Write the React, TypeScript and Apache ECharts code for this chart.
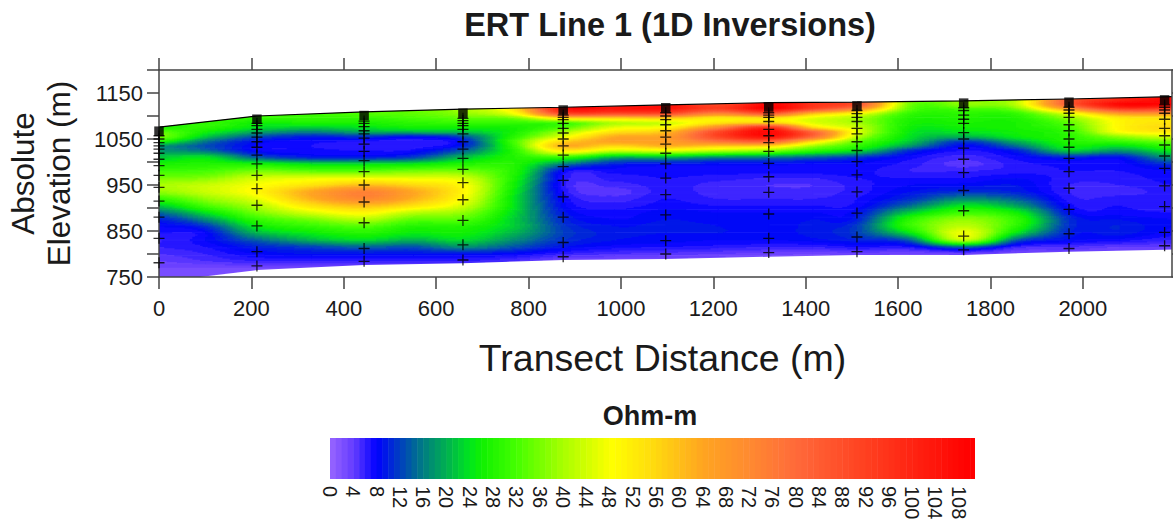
import React, { useEffect, useRef } from "react";
import * as echarts from "echarts";

const FONT = "Liberation Sans";
const AXIS_COLOR = "#444444";
const TEXT_COLOR = "#1a1a1a";

// Grid of resistivity values (Ohm-m)
const gridX = [0, 100, 212, 330, 444, 550, 658, 770, 875, 985, 1097, 1210, 1320, 1415, 1511, 1625, 1742, 1855, 1970, 2080, 2193];
const gridE = [1145, 1135, 1125, 1115, 1105, 1095, 1085, 1075, 1065, 1055, 1045, 1035, 1025, 1010, 995, 980, 965, 950, 935, 920, 905, 890, 875, 860, 845, 830, 815, 800, 785, 770, 750];

const c0 = [26, 26, 26, 26, 26, 26, 26, 28, 34, 36, 28, 18, 18, 22, 27, 31, 36, 40, 38, 30, 22, 15, 10, 8, 7, 6, 6, 5, 4, 3, 2];
const c100 = [28, 28, 28, 28, 28, 30, 30, 29, 26, 22, 16, 13, 15, 24, 28, 32, 37, 43, 43, 38, 32, 24, 17, 11, 8, 8, 7, 6, 5, 3, 2];
const c212 = [30, 30, 30, 30, 30, 30, 26, 24, 19, 13, 9, 8, 8, 14, 27, 36, 44, 48, 50, 46, 41, 36, 30, 25, 20, 14, 10, 8, 6, 3, 1];
const c330 = [32, 32, 32, 32, 31, 30, 27, 22, 16, 10, 7.5, 7, 7.5, 10, 24, 34, 46, 54, 64, 62, 54, 45, 36, 30, 25, 20, 12, 9, 6, 3, 1];
const c444 = [33, 33, 33, 33, 33, 30, 27, 24, 19, 11, 7, 6.5, 7, 10, 24, 34, 47, 60, 74, 72, 60, 50, 41, 33, 28, 23, 14, 9, 6, 3, 1];
const c550 = [35, 35, 35, 35, 34, 32, 29, 26, 20, 9, 6.5, 6.5, 7.5, 12, 25, 36, 46, 56, 64, 62, 54, 42, 34, 28, 25, 20, 13, 9, 6, 3, 1];
const c658 = [40, 40, 40, 40, 38, 34, 30, 26, 21, 13, 9.5, 10, 14, 21, 28, 36, 44, 49, 50, 48, 44, 38, 33, 28, 26, 23, 17, 9, 6, 3, 1];
const c770 = [56, 56, 56, 54, 48, 36, 30, 27, 27, 29, 32, 31, 29, 28, 28, 28, 27, 26, 25, 24, 24, 23, 22, 22, 20, 17, 13, 8, 5, 3, 1];
const c875 = [104, 104, 104, 104, 88, 54, 32, 33, 40, 46, 56, 62, 52, 30, 16, 8, 7, 6.5, 7, 8, 8.5, 9.5, 10.5, 11.5, 12, 11, 9, 6, 3, 2, 1];
const c985 = [100, 100, 100, 104, 88, 56, 41, 46, 54, 63, 65, 56, 44, 20, 10, 7.5, 6.5, 5.5, 4.5, 5.5, 6.5, 7.5, 8, 9, 9.5, 9, 7.5, 5, 2.5, 1.5, 1];
const c1097 = [104, 104, 104, 104, 88, 58, 44, 50, 60, 66, 66, 62, 46, 20, 9, 7.5, 7, 6.5, 6.5, 7, 7.5, 8.5, 9, 9.5, 9, 8.5, 7, 4.5, 2.5, 1.5, 1];
const c1210 = [84, 84, 90, 92, 72, 52, 54, 72, 90, 90, 78, 58, 42, 17, 8.5, 7.5, 6.5, 5.5, 5.5, 6, 7, 8, 8.5, 9, 9, 8, 6.5, 4, 2, 1.5, 1];
const c1320 = [108, 108, 108, 108, 84, 54, 58, 96, 108, 104, 84, 56, 38, 16, 8.5, 7.5, 6, 5, 5.5, 6, 7, 8, 8.5, 8.5, 8.5, 8, 6, 3.5, 2, 1.5, 1];
const c1415 = [94, 94, 96, 90, 60, 46, 46, 56, 82, 80, 56, 40, 30, 14, 8, 7.5, 6, 5, 5.5, 6, 7, 8, 9, 9.5, 9.5, 8.5, 6, 3, 2, 1.5, 1];
const c1511 = [82, 82, 86, 70, 48, 40, 40, 43, 46, 42, 35, 30, 24, 11, 8, 7.5, 7, 6.5, 6.5, 7, 7.5, 9, 10, 12, 12, 10, 7, 3.5, 2, 1.5, 1];
const c1625 = [38, 38, 36, 34, 30, 28, 27, 26, 25, 24, 22, 18, 11, 7.5, 6.5, 6, 7, 8, 9, 11, 15, 22, 29, 30, 24, 14, 7, 3, 2, 1.5, 1];
const c1742 = [38, 38, 38, 32, 29, 28, 27, 26, 24, 20, 12, 8.5, 7, 5.5, 4.5, 6, 7, 8.5, 11, 17, 24, 31, 38, 42, 47, 42, 14, 3.5, 2, 1.5, 1];
const c1855 = [42, 42, 42, 36, 30, 28, 27, 27, 26, 25, 20, 15, 10, 7.5, 6.5, 6.5, 8, 9, 10, 14, 19, 26, 30, 29, 24, 14, 6, 3, 2, 1.5, 1];
const c1970 = [84, 84, 84, 66, 46, 38, 34, 32, 30, 29, 28, 26, 22, 10, 7.5, 7, 6.5, 6, 6, 6.5, 7.5, 9, 11, 11, 10, 8.5, 5, 3, 2, 1.5, 1];
const c2080 = [95, 100, 108, 92, 66, 52, 50, 50, 48, 38, 31, 24, 18, 9, 7.5, 7, 6.5, 6, 5.5, 6.5, 7, 7.5, 9, 10, 9.5, 7.5, 4, 2.5, 2, 1.5, 1];
const c2193 = [108, 108, 108, 90, 68, 54, 54, 56, 52, 44, 36, 30, 25, 18, 11, 8, 7.5, 7, 6.5, 6.5, 6.5, 7, 8, 8, 7.5, 6, 4, 2.5, 2, 1.5, 1];
const gridColumns = [c0, c100, c212, c330, c444, c550, c658, c770, c875, c985, c1097, c1210, c1320, c1415, c1511, c1625, c1742, c1855, c1970, c2080, c2193];

// Ground surface and lower limit of the section
const surfaceX = [0, 212, 444, 658, 875, 1097, 1320, 1511, 1742, 1970, 2193];
const surfaceE = [1076, 1100, 1109, 1115, 1119, 1124, 1129, 1130, 1133, 1137, 1142];
const bottomX = [0, 89, 212, 444, 658, 875, 1097, 1320, 1511, 1742, 1970, 2177, 2193];
const bottomE = [750, 750, 765, 776, 780, 787, 789, 794, 798, 798, 805, 809, 810];

// Sounding stations
const stationX = [0, 212, 444, 658, 875, 1097, 1320, 1511, 1742, 1970, 2177];
const stationTop = [1067, 1093, 1101, 1106, 1113, 1118, 1119.5, 1122, 1128, 1130, 1135];
const layers0 = [1057, 1050, 1042, 1035, 1028, 1019, 1006, 992, 971, 945, 915, 880, 834, 781];
const layers1 = [1084, 1079, 1071, 1063, 1054, 1044, 1032, 1015, 996, 971, 942, 906, 861, 805, 774];
const layers2 = [1089, 1084, 1077, 1068, 1061, 1052, 1039, 1023, 1003, 979, 950, 913, 868, 812, 784];
const layers3 = [1095, 1090, 1084, 1079, 1071, 1061, 1044, 1028, 1008, 984, 955, 918, 873, 820, 787];
const layers4 = [1102, 1097, 1092, 1084, 1073, 1063, 1050, 1035, 1015, 990, 960, 924, 880, 825, 794];
const layers5 = [1107, 1100, 1092, 1081, 1068, 1054, 1039, 1019, 996, 965, 929, 885, 829, 800];
const layers6 = [1107, 1102, 1097, 1088, 1071, 1057, 1042, 1023, 997, 968, 934, 887, 834, 803];
const layers7 = [1112, 1105, 1097, 1088, 1073, 1061, 1044, 1025, 1001, 972, 935, 889, 837, 805];
const layers8 = [1118, 1112, 1102, 1093, 1084, 1064, 1050, 1030, 1006, 977, 938, 894, 839, 809];
const layers9 = [1119, 1113, 1106, 1097, 1081, 1068, 1050, 1032, 1008, 979, 943, 897, 844, 812];
const layers10 = [1124, 1119, 1113, 1106, 1093, 1073, 1057, 1037, 1013, 986, 948, 903, 847, 818];
const stationLayers = [layers0, layers1, layers2, layers3, layers4, layers5, layers6, layers7, layers8, layers9, layers10];

// Axes and legend ticks
const xTicks = [0, 200, 400, 600, 800, 1000, 1200, 1400, 1600, 1800, 2000];
const yTicks = [750, 800, 850, 900, 950, 1000, 1050, 1100, 1150, 1200];
const yLabels = [750, 850, 950, 1050, 1150];
const legendTicks = [0, 4, 8, 12, 16, 20, 24, 28, 32, 36, 40, 44, 48, 52, 56, 60, 64, 68, 72, 76, 80, 84, 88, 92, 96, 100, 104, 108];
const colorStops: [number, number[]][] = [
  [0, [153, 102, 255]],
  [4, [100, 60, 255]],
  [8, [0, 0, 255]],
  [16, [0, 125, 130]],
  [20, [0, 176, 80]],
  [24, [0, 230, 30]],
  [26, [16, 240, 0]],
  [32, [68, 255, 0]],
  [40, [168, 255, 0]],
  [48.5, [255, 255, 0]],
  [56, [255, 216, 15]],
  [64, [255, 165, 32]],
  [72, [255, 138, 48]],
  [80, [255, 106, 58]],
  [92, [255, 64, 32]],
  [110, [255, 0, 0]],
];
const legendLevels = Array.from({ length: 111 }, (_, i) => i);

function levelColor(v: number) {
  const level = Math.max(0, Math.min(110, Math.floor(v) + 0.5));
  let k = 0;
  while (k < colorStops.length - 2 && level > colorStops[k + 1][0]) k++;
  const [a, ca] = colorStops[k];
  const [b, cb] = colorStops[k + 1];
  const t = (level - a) / (b - a);
  const ch = [0, 1, 2].map((n) => Math.round(ca[n] + (cb[n] - ca[n]) * t));
  return `rgb(${ch[0]},${ch[1]},${ch[2]})`;
}

function spline(p0: number, p1: number, p2: number, p3: number, t: number) {
  return 0.5 * (2 * p1 + (p2 - p0) * t + (2 * p0 - 5 * p1 + 4 * p2 - p3) * t * t + (3 * p1 - p0 - 3 * p2 + p3) * t * t * t);
}

function fieldAt(i: number, j: number, u: number, v: number) {
  const nx = gridX.length - 1;
  const ny = gridE.length - 1;
  const rows = [-1, 0, 1, 2].map((dj) => {
    const r = Math.max(0, Math.min(ny, j + dj));
    const col = (di: number) => gridColumns[Math.max(0, Math.min(nx, i + di))][r];
    return spline(col(-1), col(0), col(1), col(2), u);
  });
  return spline(rows[0], rows[1], rows[2], rows[3], v);
}

const cellData: number[][] = [];
for (let i = 0; i < gridX.length - 1; i++) {
  for (let j = 0; j < gridE.length - 1; j++) {
    cellData.push([gridX[i], gridE[j], i, j]);
  }
}

function renderCell(_: any, api: any) {
  const i = api.value(2);
  const j = api.value(3);
  const tl = api.coord([gridX[i], gridE[j]]);
  const br = api.coord([gridX[i + 1], gridE[j + 1]]);
  const w = br[0] - tl[0];
  const h = br[1] - tl[1];
  const nu = Math.max(1, Math.round(w / 2.5));
  const nv = Math.max(1, Math.round(h / 1.25));
  const children: any[] = [];
  for (let b = 0; b < nv; b++) {
    const v = (b + 0.5) / nv;
    let runStart = 0;
    let runColor = "";
    for (let a = 0; a <= nu; a++) {
      const color = a < nu ? levelColor(fieldAt(i, j, (a + 0.5) / nu, v)) : "";
      if (color !== runColor) {
        if (runColor) {
          children.push({
            type: "rect",
            shape: {
              x: tl[0] + (runStart / nu) * w,
              y: tl[1] + (b / nv) * h,
              width: ((a - runStart) / nu) * w + 0.7,
              height: h / nv + 0.7,
            },
            style: { fill: runColor },
          });
        }
        runStart = a;
        runColor = color;
      }
    }
  }
  return { type: "group", children };
}

function renderBand(_: any, api: any) {
  const level = api.value(0);
  const a = api.coord([level, 1]);
  const b = api.coord([level + 1, 0]);
  return {
    type: "rect",
    shape: { x: a[0], y: a[1], width: b[0] - a[0] + 0.5, height: b[1] - a[1] },
    style: { fill: levelColor(level) },
  };
}

const axisLine = { show: true, onZero: false, lineStyle: { color: AXIS_COLOR, width: 1.5 } };
const axisTick = (values: number[]) => ({
  show: true,
  length: 12,
  inside: false,
  customValues: values,
  lineStyle: { color: AXIS_COLOR, width: 1.5 },
});
const plainNumber = (v: number) => String(v);
const labelStyle = { fontFamily: FONT, fontSize: 22, color: TEXT_COLOR, formatter: plainNumber };

export default function App() {
  const ref = useRef<HTMLDivElement>(null);
  useEffect(() => {
    const chart = echarts.init(ref.current!, null, { renderer: "svg" });
    chart.setOption({
      animation: false,
      backgroundColor: "#ffffff",
      title: [
        {
          text: "ERT Line 1 (1D Inversions)",
          left: 665,
          top: 3,
          textAlign: "center",
          textStyle: { fontFamily: FONT, fontSize: 32.5, fontWeight: "bold", color: TEXT_COLOR },
        },
        {
          text: "Ohm-m",
          left: 645,
          top: 397,
          textAlign: "center",
          textStyle: { fontFamily: FONT, fontSize: 27, fontWeight: "bold", color: TEXT_COLOR },
        },
      ],
      grid: [
        { left: 159, top: 70, width: 1013, height: 207, containLabel: false, outerBoundsMode: "none" },
        { left: 330, top: 438, width: 645, height: 41, containLabel: false, outerBoundsMode: "none" },
      ],
      xAxis: [
        {
          type: "value",
          gridIndex: 0,
          position: "bottom",
          min: 0,
          max: 2193,
          z: 10,
          name: "Transect Distance (m)",
          nameLocation: "middle",
          nameGap: 62,
          nameTextStyle: { fontFamily: FONT, fontSize: 37.5, color: TEXT_COLOR, padding: [0, 6, 0, 0] },
          axisLine,
          axisTick: axisTick(xTicks),
          axisLabel: { ...labelStyle, margin: 20, customValues: xTicks },
          splitLine: { show: false },
        },
        {
          type: "value",
          gridIndex: 0,
          position: "top",
          min: 0,
          max: 2193,
          z: 10,
          axisLine,
          axisTick: axisTick(xTicks),
          axisLabel: { show: false },
          splitLine: { show: false },
        },
        {
          type: "value",
          gridIndex: 1,
          position: "bottom",
          min: 0,
          max: 110.8,
          axisLine: { show: false },
          axisTick: { show: false },
          axisLabel: { fontFamily: FONT, fontSize: 20, color: TEXT_COLOR, rotate: -90, margin: 7, customValues: legendTicks, formatter: plainNumber },
          splitLine: { show: false },
        },
      ],
      yAxis: [
        {
          type: "value",
          gridIndex: 0,
          position: "left",
          min: 750,
          max: 1200,
          z: 10,
          name: "Absolute\nElevation (m)",
          nameLocation: "middle",
          nameGap: 82,
          nameRotate: 90,
          nameTextStyle: { fontFamily: FONT, fontSize: 31.5, lineHeight: 36, color: TEXT_COLOR },
          axisLine,
          axisTick: axisTick(yTicks),
          axisLabel: { ...labelStyle, margin: 16, customValues: yLabels },
          splitLine: { show: false },
        },
        {
          type: "value",
          gridIndex: 0,
          position: "right",
          min: 750,
          max: 1200,
          z: 10,
          axisLine,
          axisTick: axisTick(yTicks),
          axisLabel: { show: false },
          splitLine: { show: false },
        },
        {
          type: "value",
          gridIndex: 1,
          min: 0,
          max: 1,
          axisLine: { show: false },
          axisTick: { show: false },
          axisLabel: { show: false },
          splitLine: { show: false },
        },
      ],
      series: [
        {
          type: "custom",
          name: "Resistivity",
          xAxisIndex: 0,
          yAxisIndex: 0,
          z: 1,
          clip: true,
          silent: true,
          encode: { x: 0, y: 1 },
          renderItem: renderCell,
          data: cellData,
        },
        {
          type: "line",
          name: "Surface",
          xAxisIndex: 0,
          yAxisIndex: 0,
          z: 3,
          silent: true,
          showSymbol: false,
          lineStyle: { color: "#000000", width: 1.2 },
          areaStyle: { color: "#ffffff", opacity: 1, origin: "end" },
          data: surfaceX.map((x, i) => [x, surfaceE[i]]),
        },
        {
          type: "line",
          name: "Lower limit",
          xAxisIndex: 0,
          yAxisIndex: 0,
          z: 3,
          silent: true,
          showSymbol: false,
          lineStyle: { width: 0, opacity: 0 },
          areaStyle: { color: "#ffffff", opacity: 1, origin: "start" },
          data: bottomX.map((x, i) => [x, bottomE[i]]),
        },
        {
          type: "scatter",
          name: "Layers",
          xAxisIndex: 0,
          yAxisIndex: 0,
          z: 20,
          clip: false,
          silent: true,
          symbol: "path://M4.4 0h1.2v4.4h4.4v1.2h-4.4v4.4h-1.2v-4.4h-4.4v-1.2h4.4z",
          symbolSize: 11,
          itemStyle: { color: "#000000" },
          data: stationLayers.flatMap((layers, i) => layers.map((e) => [stationX[i], e])),
        },
        {
          type: "scatter",
          name: "Stations",
          xAxisIndex: 0,
          yAxisIndex: 0,
          z: 21,
          clip: false,
          silent: true,
          symbol: "rect",
          symbolSize: 9.5,
          itemStyle: { color: "#000000" },
          data: stationX.map((x, i) => [x, stationTop[i]]),
        },
        {
          type: "custom",
          name: "Colour scale",
          xAxisIndex: 2,
          yAxisIndex: 2,
          clip: true,
          silent: true,
          encode: { x: 0 },
          renderItem: renderBand,
          data: legendLevels.map((l) => [l]),
        },
      ],
    });
    return () => chart.dispose();
  }, []);
  return <div ref={ref} style={{ position: "absolute", left: 0, top: 0, width: 1173, height: 523 }} />;
}
